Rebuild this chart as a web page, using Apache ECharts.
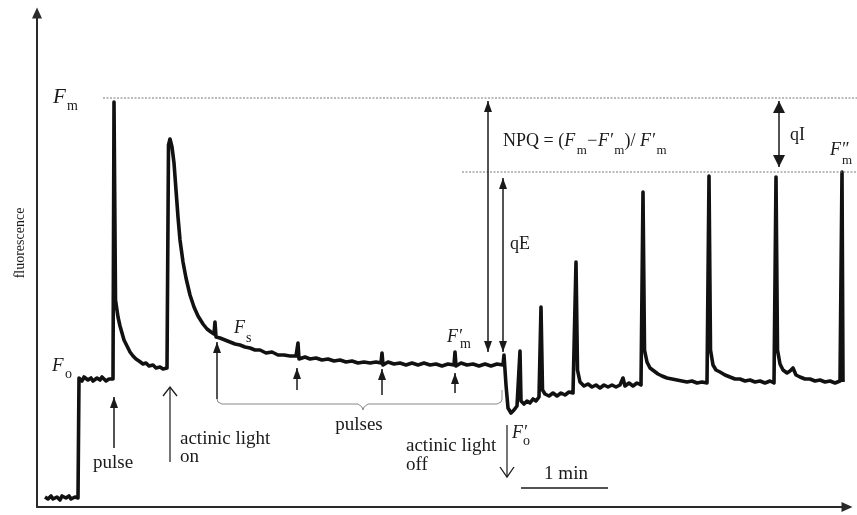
<!DOCTYPE html>
<html><head><meta charset="utf-8">
<script src="https://cdn.jsdelivr.net/npm/echarts@6/dist/echarts.min.js"></script>
<style>html,body{margin:0;padding:0;background:#fff}#c{width:857px;height:515px}</style>
</head><body><div id="c"></div>
<script>
// time in arbitrary units (87 units = 1 min), fluorescence in arbitrary units
const darkAdapted = [[8,10],[11,8],[14,11],[16,8],[20,10],[23,7],[25,11],[29,9],[32,11],[34,8],[38,10],[41,9],
 [42,129],[45,126],[47,130],[51,127],[54,129],[56,126],[60,129],[63,127],[65,130],[69,126],[72,128],[74,126],[76,128],
 [77,405],[78.5,207],[81,190],[83,181],[85,174],[87,167],[90,161],[93,155],[96,151],[99,148],[102,146],[106,143],[109,144],[112,141],[116,142],[119,139],[123,140],[126,138],[130,139]];
const actinicOn = [[131.5,362],[133,368],[135,360],[137,344],[139,317],[141,290],[143,267],[146,245],[149,229],[153,212],[157,200],[161,191],[166,183],[170,178],[174,175],[177,173],
 [178,185],[179,170],[183,169],[188,167],[193,165],[198,163],[203,162],[208,160],[213,159],[218,157],[223,157],[229,154],[235,155],[241,152],[247,152],[253,151],[259,151],
 [261,164],[262,148],[268,150],[273,148],[279,149],[285,147],[291,148],[297,146],[303,147],[309,145],[315,146],[321,144],[327,145],[333,144],[339,145],[344,144],
 [345,154],[346,142],[351,145],[357,143],[363,144],[369,142],[375,144],[381,142],[387,144],[393,142],[399,143],[405,141],[411,143],[417,142],
 [418,155],[419,141],[424,144],[430,142],[436,143],[442,141],[448,143],[454,141],[460,143],[466,142],[467,152]];
const actinicOff = [[469,122],[471,99],[474,94],[477,97],[480,101],[483,156],[484,106],[487,103],[490,106],[493,104],[496,108],[499,106],[502,110],
 [504,200],[505.5,117],[508,113],[512,111],[516,114],[520,111],[524,114],[528,112],[532,115],[536,114],
 [539,245],[540.5,137],[543,125],[547,121],[551,123],[555,120],[559,122],[563,119],[567,122],[571,120],[575,122],[579,120],[583,122],[586,129],[588,121],[592,124],[596,121],[600,124],[604,122],
 [606,315],[607.5,157],[610,145],[613,139],[617,136],[621,133],[625,131],[630,129],[635,128],[640,127],[645,126],[650,125],[655,126],[660,124],[665,125],[670,124],
 [672,331],[673.5,157],[676,142],[679,137],[683,135],[688,132],[693,130],[698,128],[703,128],[708,126],[713,127],[718,125],[723,126],[728,124],[733,126],[737,124],
 [739,330],[740.5,157],[743,143],[746,137],[750,134],[753,136],[756,139],[759,132],[763,130],[768,128],[773,128],[778,126],[783,127],[788,125],[793,126],[798,124],[803,126],
 [805,335],[806,125]];
const trace = darkAdapted.concat(actinicOn, actinicOff);
const FmLevel = 409, FmDoublePrimeLevel = 335;
const pulseMarks = [260, 345, 418];

const chart = echarts.init(document.getElementById('c'), null, {renderer:'canvas'});
const INK = '#1a1a1a';
const axisCommon = {
  type:'value', axisTick:{show:false}, axisLabel:{show:false}, splitLine:{show:false},
  axisLine:{show:true, onZero:false, symbol:['none','triangle'], symbolSize:[10,11], lineStyle:{color:'#2a2a2a', width:2}}
};
chart.setOption({
  animation:false,
  grid:{left:37, right:10, top:13, bottom:8},
  xAxis:Object.assign({min:0, max:810}, axisCommon),
  yAxis:Object.assign({min:0, max:494}, axisCommon),
  series:[{type:'line', data:trace, showSymbol:false, symbol:'none', clip:false,
    lineStyle:{color:'#111', width:3.6, join:'round'}}]
});

const P = (x,y) => chart.convertToPixel({gridIndex:0}, [x,y]);
const G = [];
const SERIF = '"Liberation Serif","Times New Roman",serif';
const mctx = document.createElement('canvas').getContext('2d');
function tw(str,size,it){mctx.font=(it?'italic ':'')+size+'px '+SERIF;return mctx.measureText(str).width;}
function seg(x1,y1,x2,y2,w,c,dash){const a=P(x1,y1),b=P(x2,y2);
  G.push({type:'line',silent:true,z:10,shape:{x1:a[0],y1:a[1],x2:b[0],y2:b[1]},style:{stroke:c||INK,lineWidth:w||1.5,lineDash:dash||null}});}
function head(x,y,dir,w,l){const t=P(x,y);const s=dir;
  G.push({type:'polygon',silent:true,z:10,shape:{points:[[t[0],t[1]],[t[0]-w/2,t[1]+s*l],[t[0]+w/2,t[1]+s*l]]},style:{fill:INK}});}
function vhead(x,y,dir,w,l){const t=P(x,y);const s=dir;
  G.push({type:'polyline',silent:true,z:10,shape:{points:[[t[0]-w/2,t[1]+s*l],[t[0],t[1]],[t[0]+w/2,t[1]+s*l]]},style:{stroke:INK,lineWidth:1.3,fill:null}});}
function ptxt(px,py,str,size,o){o=o||{};
  G.push({type:'text',silent:true,z:10,x:px,y:py,rotation:o.rot||0,style:{text:str,fontSize:size,fontFamily:SERIF,fontStyle:o.it?'italic':'normal',
    fill:'#1a1a1a',align:o.align||'left',verticalAlign:'middle',textAlign:o.align||'left',textVerticalAlign:'middle'}});}
function txt(x,y,str,size,o){const p=P(x,y);ptxt(p[0],p[1],str,size,o);}
function filledArrow(x,yBase,yTip,w,l){seg(x,yBase,x,yTip,1.5);head(x,yTip,yTip>yBase?1:-1,w||8,l||11);}
function doubleArrow(x,yLow,yHigh,w,l){seg(x,yLow,x,yHigh,1.5);head(x,yHigh,1,w||8,l||11);head(x,yLow,-1,w||8,l||11);}

seg(66,FmLevel,820,FmLevel,1,'#777',[2,1.5]);
seg(425,FmDoublePrimeLevel,820,FmDoublePrimeLevel,1,'#777',[2,1.5]);

txt(-17,264,'fluorescence',14,{rot:Math.PI/2,align:'center'});
txt(16,410,'F',21,{it:true}); txt(30,401,'m',14);
txt(15,141,'F',19,{it:true}); txt(28,133,'o',14);
filledArrow(77,59,110,8,11);
txt(56,44,'pulse',19);
seg(133,45,133,120,1.2); vhead(133,120,1,14,9);
txt(143,68,'actinic light',19); txt(143,50,'on',19);
txt(197,179,'F',18,{it:true}); txt(209,169,'s',14);
filledArrow(180,108,165,8,11);
(function(){const pts=[[180,108],[181,105],[185,103],[321,103],[325,100],[326,97],[327,100],[331,103],[460,103],[464,105],[465,108],[465,117]].map(q=>P(q[0],q[1]));
 G.push({type:'polyline',silent:true,z:10,shape:{points:pts},style:{stroke:'#888',lineWidth:1,fill:null}});})();
const pulseBase=[117,112,114], pulseTip=[139,138,134];
pulseMarks.forEach((x,i)=>filledArrow(x,pulseBase[i],pulseTip[i],8,11));
txt(322,82,'pulses',19,{align:'center'});
txt(410,170,'F′',18,{it:true}); txt(423,163,'m',14);
doubleArrow(451,155,406,8,11);
doubleArrow(466,155,329,8,11);
txt(473,263,'qE',18);
(function(){
  const start=P(466,366); let x=start[0]; const yMain=start[1], ySub=start[1]+10;
  const pieces=[['NPQ = (',18,false,false,0],['F',18,true,false,1.5],['m',13,false,true,0.5],['−',18,false,false,0.5],['F′',18,true,false,1.5],['m',13,false,true,0],
    [')/ ',18,false,false,0],['F′',18,true,false,1.5],['m',13,false,true,0]];
  pieces.forEach(p=>{ptxt(x,p[3]?ySub:yMain,p[0],p[1],{it:p[2]});x+=tw(p[0],p[1],p[2])+p[4];});
})();
doubleArrow(742,340,406,12,12);
txt(753,372,'qI',18);
txt(793,357,'F″',18,{it:true}); txt(805,346,'m',13);
seg(470,82,470,30,1.2); vhead(470,30,-1,14,10);
txt(369,61,'actinic light',19); txt(369,42,'off',19);
txt(475,74,'F′',18,{it:true}); txt(486,66,'o',14);
seg(484,19,571,19,1.5);
txt(529,33,'1 min',19,{align:'center'});

chart.setOption({graphic:{elements:G}});
</script></body></html>
